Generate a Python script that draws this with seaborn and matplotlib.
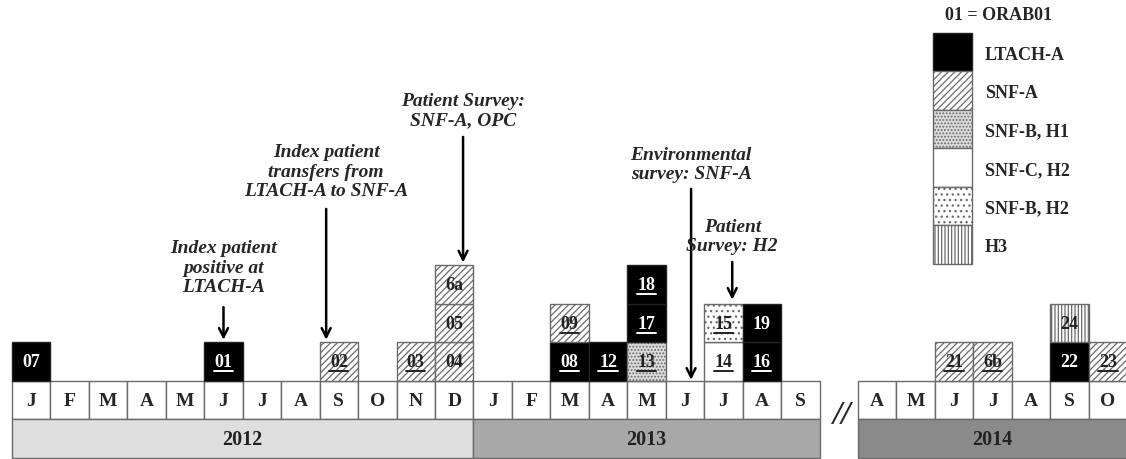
import matplotlib
matplotlib.use("Agg")
import matplotlib.pyplot as plt
import seaborn as sns

sns.set_theme(style="white")
plt.rcParams['font.family'] = ['Liberation Serif', 'DejaVu Serif']
plt.rcParams['hatch.linewidth'] = 0.9

# timeline shown on the axis (2013-10 .. 2014-03 are cut out)
months_2012 = ['J', 'F', 'M', 'A', 'M', 'J', 'J', 'A', 'S', 'O', 'N', 'D']
months_2013 = ['J', 'F', 'M', 'A', 'M', 'J', 'J', 'A', 'S']
months_2014 = ['A', 'M', 'J', 'J', 'A', 'S', 'O']
first_month = {2012: 1, 2013: 1, 2014: 4}
year_colors = {2012: '#dedede', 2013: '#a8a8a8', 2014: '#8a8a8a'}

# cases, listed bottom to top inside each month
case_labels = ['07', '01', '02', '03', '04', '05', '6a', '08', '09', '12', '13',
               '17', '18', '14', '15', '16', '19', '21', '6b', '22', '24', '23']
case_month = ['2012-01', '2012-06', '2012-09', '2012-11', '2012-12', '2012-12',
              '2012-12', '2013-03', '2013-03', '2013-04', '2013-05', '2013-05',
              '2013-05', '2013-07', '2013-07', '2013-08', '2013-08', '2014-06',
              '2014-07', '2014-09', '2014-09', '2014-10']
case_group = ['LTACH-A', 'LTACH-A', 'SNF-A', 'SNF-A', 'SNF-A', 'SNF-A', 'SNF-A',
              'LTACH-A', 'SNF-A', 'LTACH-A', 'SNF-B, H1', 'LTACH-A', 'LTACH-A',
              'SNF-C, H2', 'SNF-B, H2', 'LTACH-A', 'LTACH-A', 'SNF-A', 'SNF-A',
              'LTACH-A', 'H3', 'SNF-A']
case_underlined = [0, 1, 1, 1, 0, 0, 0, 1, 1, 1, 1, 1, 1, 1, 1, 1, 0, 1, 1, 0, 0, 1]

legend_groups = ['LTACH-A', 'SNF-A', 'SNF-B, H1', 'SNF-C, H2', 'SNF-B, H2', 'H3']
group_style = {
    'LTACH-A':   dict(face='black', hatch=None, text='white'),
    'SNF-A':     dict(face='white', hatch='/////', text='#222222'),
    'SNF-B, H1': dict(face='#dcdcdc', hatch='.....', text='#222222'),
    'SNF-C, H2': dict(face='white', hatch=None, text='#222222'),
    'SNF-B, H2': dict(face='white', hatch='...', text='#222222'),
    'H3':        dict(face='white', hatch='|||||', text='#222222'),
}

# events: text, position (in months from Jan 2012), text height, arrow tail, arrow tip
event_text = ['Index patient\npositive at\nLTACH-A',
              'Index patient\ntransfers from\nLTACH-A to SNF-A',
              'Patient Survey:\nSNF-A, OPC',
              'Environmental\nsurvey: SNF-A',
              'Patient\nSurvey: H2']
event_x = [5.0, 7.67, 11.23, 17.16, 18.23]
event_text_y = [2.96, 5.45, 7.04, 5.64, 3.77]
event_tail = [1.92, 4.47, 6.34, 4.99, 3.09]
event_tip = [1.07, 1.07, 3.08, 0.03, 2.11]

EDGE = '#6a6a6a'
FS = 13


def slot_of(year, month):
    offset = 0
    for y, n in [(2012, len(months_2012)), (2013, len(months_2013) + 1), (2014, len(months_2014))]:
        if y == year:
            return offset + month - first_month[y]
        offset += n
    raise ValueError(year)


fig = plt.figure(figsize=(11.26, 4.6), dpi=100)
ax = fig.add_axes([0, 0, 1, 1])
ax.set_axis_off()

# month row and year row
for year, months in [(2012, months_2012), (2013, months_2013), (2014, months_2014)]:
    xs = [slot_of(year, first_month[year] + i) for i in range(len(months))]
    ax.bar(xs, 1, bottom=-1, width=1, color='white', edgecolor=EDGE, linewidth=1)
    for x, m in zip(xs, months):
        ax.text(x, -0.5, m, ha='center', va='center', fontsize=FS + 1, fontweight='bold')
    mid = (xs[0] + xs[-1]) / 2
    ax.bar(mid, 1, bottom=-2, width=len(xs), color=year_colors[year],
           edgecolor=EDGE, linewidth=1)
    ax.text(mid, -1.5, str(year), ha='center', va='center', fontsize=FS + 1.5,
            fontweight='bold', color='#222222')

ax.text(21.06, -0.86, '//', ha='center', va='center', fontsize=24, fontweight='bold',
        fontstyle='italic')

# stacked case cells
stack = {}
for lab, ym, grp, ul in zip(case_labels, case_month, case_group, case_underlined):
    y, m = map(int, ym.split('-'))
    x = slot_of(y, m)
    level = stack.get(x, 0)
    stack[x] = level + 1
    st = group_style[grp]
    ax.bar(x, 1, bottom=level, width=1, color=st['face'], hatch=st['hatch'],
           edgecolor=EDGE if grp != 'LTACH-A' else '#222222', linewidth=1)
    ax.text(x, level + 0.5, lab, ha='center', va='center', fontsize=FS,
            fontweight='bold', color=st['text'])
    if ul:
        ax.plot([x - 0.25, x + 0.25], [level + 0.25] * 2, color=st['text'], lw=1.4)

# legend
ax.text(23.77, 9.53, '01 = ORAB01', ha='left', va='center', fontsize=FS, fontweight='bold')
for i, grp in enumerate(legend_groups):
    st = group_style[grp]
    bottom = 8.04 - i
    ax.bar(23.96, 1, bottom=bottom, width=1, color=st['face'], hatch=st['hatch'],
           edgecolor=EDGE if grp != 'LTACH-A' else '#222222', linewidth=1)
    ax.text(24.8, bottom + 0.45, grp, ha='left', va='center', fontsize=FS, fontweight='bold')

# event annotations
for txt, x, ty, tail, tip in zip(event_text, event_x, event_text_y, event_tail, event_tip):
    ax.text(x, ty, txt, ha='center', va='center', fontsize=FS + 1,
            fontweight='bold', fontstyle='italic', linespacing=1.2)
    ax.annotate('', xy=(x, tip), xytext=(x, tail),
                arrowprops=dict(arrowstyle='->', color='black', lw=1.8,
                                mutation_scale=16, shrinkA=0, shrinkB=0))

ax.set_xlim(-0.812, 28.47)
ax.set_ylim(-2.026, 9.922)

fig.savefig('out.png', dpi=100)
